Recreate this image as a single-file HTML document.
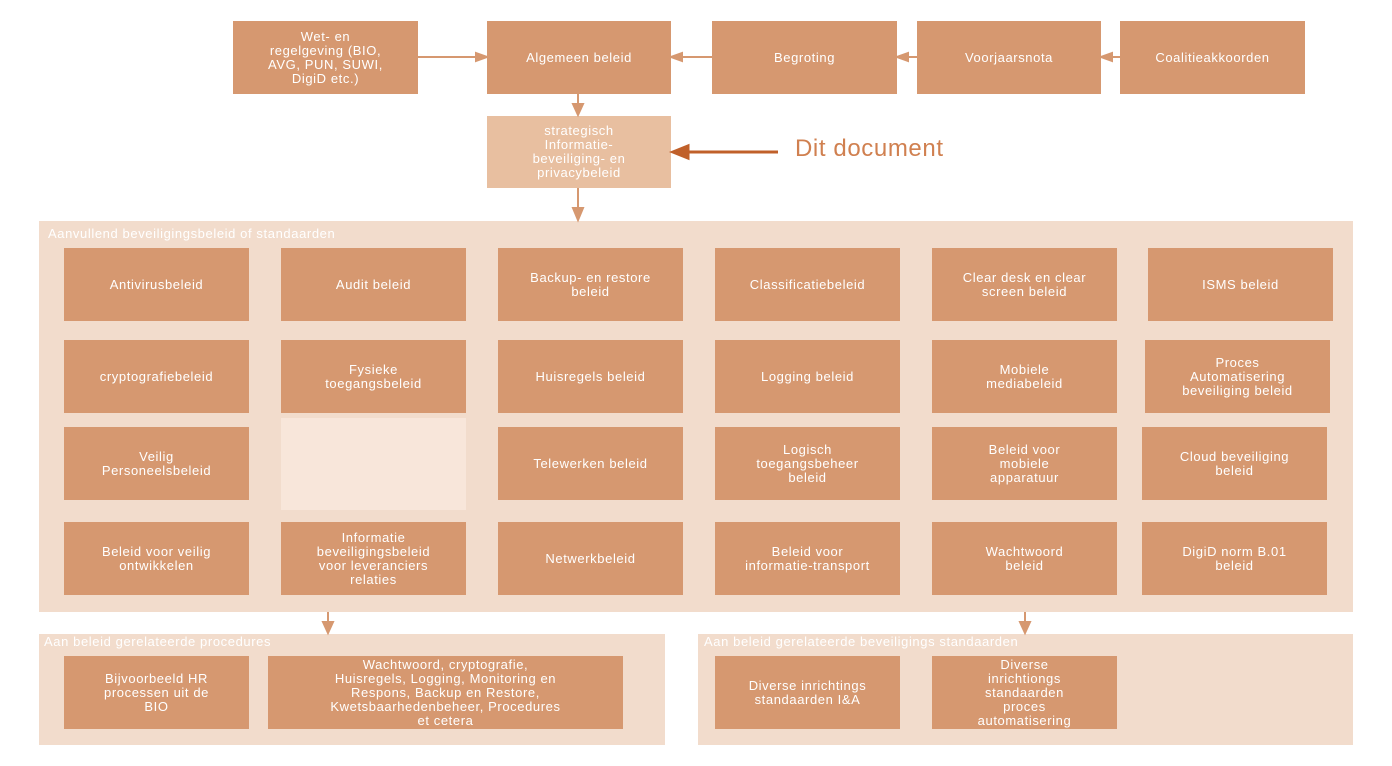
<!DOCTYPE html>
<html><head><style>
body{margin:0;width:1392px;height:766px;background:#fff;position:relative;font-family:"Liberation Sans","DejaVu Sans",sans-serif;overflow:hidden}
.b{position:absolute;background:#D69870;color:#fff;display:flex;align-items:center;justify-content:center;text-align:center;font-size:13px;line-height:14px;letter-spacing:0.6px;box-sizing:border-box;padding:0 2px}
.c{position:absolute;background:#F2DCCC}
.l{position:absolute;color:#fff;font-size:13px;letter-spacing:0.6px}
svg{position:absolute;left:0;top:0}
</style></head><body>
<div class="c" style="left:39px;top:221px;width:1314px;height:391px"></div>
<div class="l" style="left:48px;top:226px">Aanvullend beveiligingsbeleid of standaarden</div>
<div class="c" style="left:39px;top:634px;width:626px;height:111px"></div>
<div class="l" style="left:44px;top:634px">Aan beleid  gerelateerde procedures</div>
<div class="c" style="left:698px;top:634px;width:655px;height:111px"></div>
<div class="l" style="left:704px;top:634px">Aan beleid  gerelateerde  beveiligings  standaarden</div>

<div class="b" style="left:233px;top:21px;width:185px;height:73px">Wet- en<br>regelgeving (BIO,<br>AVG, PUN, SUWI,<br>DigiD etc.)</div>
<div class="b" style="left:487px;top:21px;width:184px;height:73px">Algemeen beleid</div>
<div class="b" style="left:712px;top:21px;width:185px;height:73px">Begroting</div>
<div class="b" style="left:917px;top:21px;width:184px;height:73px">Voorjaarsnota</div>
<div class="b" style="left:1120px;top:21px;width:185px;height:73px">Coalitieakkoorden</div>
<div class="b" style="left:487px;top:116px;width:184px;height:72px;background:#E8BFA0">strategisch<br>Informatie-<br>beveiliging- en<br>privacybeleid</div>
<div style="position:absolute;left:795px;top:135px;font-size:24px;letter-spacing:0.6px;color:#D08050">Dit document</div>

<div class="b" style="left:64px;top:248px;width:185px;height:73px">Antivirusbeleid</div>
<div class="b" style="left:281px;top:248px;width:185px;height:73px">Audit beleid</div>
<div class="b" style="left:498px;top:248px;width:185px;height:73px">Backup- en restore<br>beleid</div>
<div class="b" style="left:715px;top:248px;width:185px;height:73px">Classificatiebeleid</div>
<div class="b" style="left:932px;top:248px;width:185px;height:73px">Clear desk en clear<br>screen beleid</div>
<div class="b" style="left:1148px;top:248px;width:185px;height:73px">ISMS beleid</div>

<div class="b" style="left:64px;top:340px;width:185px;height:73px">cryptografiebeleid</div>
<div class="b" style="left:281px;top:340px;width:185px;height:73px">Fysieke<br>toegangsbeleid</div>
<div class="b" style="left:498px;top:340px;width:185px;height:73px">Huisregels beleid</div>
<div class="b" style="left:715px;top:340px;width:185px;height:73px">Logging beleid</div>
<div class="b" style="left:932px;top:340px;width:185px;height:73px">Mobiele<br>mediabeleid</div>
<div class="b" style="left:1145px;top:340px;width:185px;height:73px">Proces<br>Automatisering<br>beveiliging beleid</div>

<div class="b" style="left:64px;top:427px;width:185px;height:73px">Veilig<br>Personeelsbeleid</div>
<div class="b" style="left:281px;top:418px;width:185px;height:92px;background:#F8E6DA"></div>
<div class="b" style="left:498px;top:427px;width:185px;height:73px">Telewerken beleid</div>
<div class="b" style="left:715px;top:427px;width:185px;height:73px">Logisch<br>toegangsbeheer<br>beleid</div>
<div class="b" style="left:932px;top:427px;width:185px;height:73px">Beleid voor<br>mobiele<br>apparatuur</div>
<div class="b" style="left:1142px;top:427px;width:185px;height:73px">Cloud beveiliging<br>beleid</div>

<div class="b" style="left:64px;top:522px;width:185px;height:73px">Beleid voor veilig<br>ontwikkelen</div>
<div class="b" style="left:281px;top:522px;width:185px;height:73px">Informatie<br>beveiligingsbeleid<br>voor leveranciers<br>relaties</div>
<div class="b" style="left:498px;top:522px;width:185px;height:73px">Netwerkbeleid</div>
<div class="b" style="left:715px;top:522px;width:185px;height:73px">Beleid voor<br>informatie-transport</div>
<div class="b" style="left:932px;top:522px;width:185px;height:73px">Wachtwoord<br>beleid</div>
<div class="b" style="left:1142px;top:522px;width:185px;height:73px">DigiD norm B.01<br>beleid</div>

<div class="b" style="left:64px;top:656px;width:185px;height:73px">Bijvoorbeeld HR<br>processen uit de<br>BIO</div>
<div class="b" style="left:268px;top:656px;width:355px;height:73px">Wachtwoord, cryptografie,<br>Huisregels, Logging, Monitoring en<br>Respons, Backup en Restore,<br>Kwetsbaarhedenbeheer, Procedures<br>et cetera</div>
<div class="b" style="left:715px;top:656px;width:185px;height:73px">Diverse inrichtings<br>standaarden I&amp;A</div>
<div class="b" style="left:932px;top:656px;width:185px;height:73px">Diverse<br>inrichtiongs<br>standaarden<br>proces<br>automatisering</div>

<svg width="1392" height="766">
<g stroke="#D69870" stroke-width="2" fill="#D69870">
<line x1="418" y1="57" x2="478" y2="57"/><polygon points="487,57 476,53 476,61"/>
<line x1="712" y1="57" x2="682" y2="57"/><polygon points="671,57 682,53 682,61"/>
<line x1="917" y1="57" x2="908" y2="57"/><polygon points="897,57 908,53 908,61"/>
<line x1="1120" y1="57" x2="1112" y2="57"/><polygon points="1101,57 1112,53 1112,61"/>
<line x1="578" y1="94" x2="578" y2="106"/><polygon points="578,115 573,104 583,104"/>
<line x1="578" y1="188" x2="578" y2="210"/><polygon points="578,220 573,208 583,208"/>
<line x1="328" y1="612" x2="328" y2="624"/><polygon points="328,633 323,622 333,622"/>
<line x1="1025" y1="612" x2="1025" y2="624"/><polygon points="1025,633 1020,622 1030,622"/>
</g>
<g stroke="#C0602A" stroke-width="3" fill="#C0602A">
<line x1="778" y1="152" x2="686" y2="152"/><polygon points="673,152 688,146 688,158"/>
</g>
</svg>
</body></html>
